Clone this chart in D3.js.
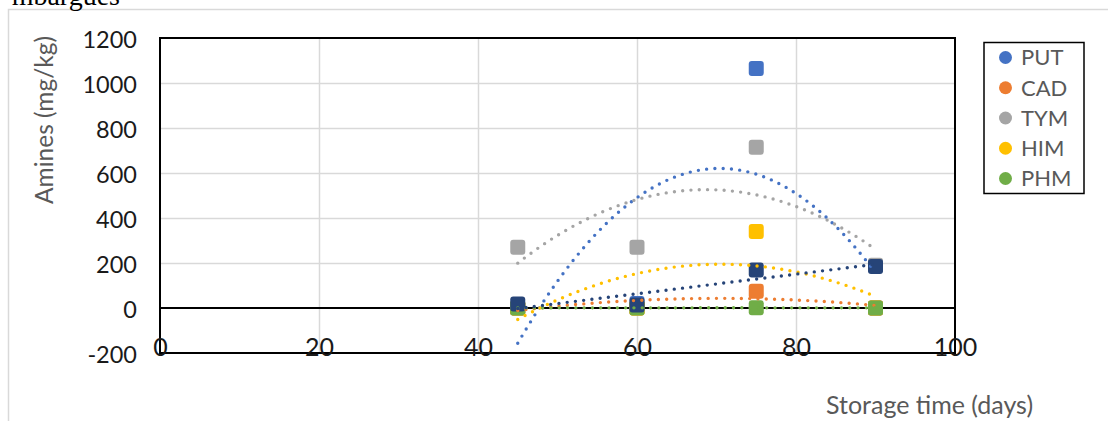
<!DOCTYPE html>
<html>
<head>
<meta charset="utf-8">
<script src="https://cdn.jsdelivr.net/npm/d3@7"></script>
<style>
  html, body { margin: 0; padding: 0; background: #fff; }
  svg { display: block; }
</style>
</head>
<body>
<script>
// Storage days sampled
const days = [45, 60, 75, 90];

// Biogenic amine contents (mg/kg) per storage day
const putValues = [0, 20, 1065, 0];
const cadValues = [0, 0, 75, 0];
const tymValues = [270, 270, 715, 190];
const himValues = [0, 0, 340, 0];
const phmValues = [0.5, 0.5, 1, 0.5];
const unlabeledValues = [18, 13, 169, 184];

// Series names shown in the legend and their colours
const seriesNames = ["PUT", "CAD", "TYM", "HIM", "PHM"];
const seriesColors = ["#4472C4", "#ED7D31", "#A5A5A5", "#FFC000", "#70AD47"];
const unlabeledColor = "#264478";

// Axis ticks
const xTicks = [0, 20, 40, 60, 80, 100];
const yTicks = [-200, 0, 200, 400, 600, 800, 1000, 1200];

const W = 1108, H = 421;
const plot = { left: 160, right: 955, top: 38, bottom: 353 };

const x = d3.scaleLinear().domain([0, 100]).range([plot.left, plot.right]);
const y = d3.scaleLinear().domain([-200, 1200]).range([plot.bottom, plot.top]);

const series = [
  { name: seriesNames[0], color: seriesColors[0], values: putValues, fit: 2 },
  { name: seriesNames[1], color: seriesColors[1], values: cadValues, fit: 2 },
  { name: seriesNames[2], color: seriesColors[2], values: tymValues, fit: 2 },
  { name: seriesNames[3], color: seriesColors[3], values: himValues, fit: 2 },
  { name: seriesNames[4], color: seriesColors[4], values: phmValues, fit: 2 },
  { name: null, color: unlabeledColor, values: unlabeledValues, fit: 1 }
];

// Least-squares polynomial fit (degree 1 or 2), returns coefficient array [c0, c1, c2]
function polyFit(xs, ys, degree) {
  const n = degree + 1;
  const A = [];
  for (let r = 0; r < n; r++) {
    A.push([]);
    for (let c = 0; c < n; c++) A[r].push(d3.sum(xs, xv => Math.pow(xv, r + c)));
    A[r].push(d3.sum(xs.map((xv, i) => Math.pow(xv, r) * ys[i])));
  }
  // Gaussian elimination
  for (let i = 0; i < n; i++) {
    let p = i;
    for (let k = i + 1; k < n; k++) if (Math.abs(A[k][i]) > Math.abs(A[p][i])) p = k;
    [A[i], A[p]] = [A[p], A[i]];
    for (let k = i + 1; k < n; k++) {
      const f = A[k][i] / A[i][i];
      for (let j = i; j <= n; j++) A[k][j] -= f * A[i][j];
    }
  }
  const coef = new Array(n).fill(0);
  for (let i = n - 1; i >= 0; i--) {
    let s = A[i][n];
    for (let j = i + 1; j < n; j++) s -= A[i][j] * coef[j];
    coef[i] = s / A[i][i];
  }
  return coef;
}

const plainNumber = d => String(d);

const svg = d3.select("body").append("svg").attr("width", W).attr("height", H);

// Outer chart border
svg.append("path")
  .attr("d", `M8.5,${H} V9.5 H${W}`)
  .attr("fill", "none").attr("stroke", "#D9D9D9").attr("stroke-width", 1.5);

// Caption line running above the chart frame
svg.append("text")
  .attr("x", 120).attr("y", 5)
  .attr("text-anchor", "end")
  .attr("font-family", "Liberation Serif, serif")
  .attr("font-size", 28)
  .attr("fill", "#000")
  .text("mbargues");

// Gridlines
svg.append("g")
  .attr("transform", `translate(${plot.left},0)`)
  .call(d3.axisLeft(y).tickValues(yTicks.filter(v => v > 0 && v < 1200)).tickSize(-(plot.right - plot.left)).tickFormat(""))
  .call(g => g.select(".domain").remove())
  .call(g => g.selectAll("line").attr("stroke", "#D9D9D9").attr("stroke-width", 1.5));

svg.append("g")
  .attr("transform", `translate(0,${plot.bottom})`)
  .call(d3.axisBottom(x).tickValues(xTicks.filter(v => v > 0 && v < 100)).tickSize(-(plot.bottom - plot.top)).tickFormat(""))
  .call(g => g.select(".domain").remove())
  .call(g => g.selectAll("line").attr("stroke", "#D9D9D9").attr("stroke-width", 1.5));

// Plot frame and zero line
svg.append("rect")
  .attr("x", plot.left).attr("y", plot.top)
  .attr("width", plot.right - plot.left).attr("height", plot.bottom - plot.top)
  .attr("fill", "none").attr("stroke", "#000").attr("stroke-width", 2);
svg.append("line")
  .attr("x1", plot.left).attr("x2", plot.right)
  .attr("y1", y(0)).attr("y2", y(0))
  .attr("stroke", "#000").attr("stroke-width", 2);

// Y tick labels
svg.append("g")
  .attr("transform", `translate(${plot.left},0)`)
  .call(d3.axisLeft(y).tickValues(yTicks).tickSize(0).tickPadding(23).tickFormat(plainNumber))
  .call(g => g.select(".domain").remove())
  .call(g => g.selectAll("text")
    .attr("font-family", "Lato, sans-serif").attr("font-size", 23.5)
    .attr("fill", "#1a1a1a").attr("dy", "0.42em"));

// X tick labels (sitting on the bottom axis line)
svg.append("g")
  .attr("transform", `translate(0,${plot.bottom})`)
  .call(d3.axisBottom(x).tickValues(xTicks).tickSize(0).tickFormat(plainNumber))
  .call(g => g.select(".domain").remove())
  .call(g => g.selectAll("text")
    .attr("font-family", "Lato, sans-serif").attr("font-size", 25)
    .attr("fill", "#1a1a1a").attr("y", -6).attr("dy", "0.36em"));

// Axis titles
svg.append("text")
  .attr("transform", `translate(53,120) rotate(-90)`)
  .attr("text-anchor", "middle")
  .attr("font-family", "Lato, sans-serif").attr("font-size", 24.5)
  .attr("fill", "#595959")
  .text("Amines (mg/kg)");

svg.append("text")
  .attr("x", 826).attr("y", 414)
  .attr("font-family", "Lato, sans-serif").attr("font-size", 25)
  .attr("fill", "#595959")
  .text("Storage time (days)");

// Markers
const mk = 15;
series.forEach(s => {
  svg.append("g").selectAll("rect")
    .data(days.map((d, i) => ({ d, v: s.values[i] })))
    .join("rect")
    .attr("x", p => x(p.d) - mk / 2).attr("y", p => y(p.v) - mk / 2)
    .attr("width", mk).attr("height", mk).attr("rx", 3)
    .attr("fill", s.color);
});

// Trendlines (dotted)
const line = d3.line().x(p => x(p[0])).y(p => y(p[1]));
const xs = d3.range(days[0], days[days.length - 1] + 0.001, 0.25);
series.forEach(s => {
  const c = polyFit(days, s.values, s.fit);
  const pts = xs.map(t => [t, c.reduce((acc, k, i) => acc + k * Math.pow(t, i), 0)]);
  svg.append("path")
    .attr("d", line(pts))
    .attr("fill", "none")
    .attr("stroke", s.color)
    .attr("stroke-width", 3.4)
    .attr("stroke-linecap", "round")
    .attr("stroke-dasharray", "0 8.3");
});

// Legend
const legend = svg.append("g");
legend.append("rect")
  .attr("x", 984).attr("y", 42.5).attr("width", 100).attr("height", 151)
  .attr("fill", "#fff").attr("stroke", "#000").attr("stroke-width", 1.5);
const legendRows = series.filter(s => s.name);
const legendY = d3.scalePoint().domain(legendRows.map(s => s.name)).range([57.5, 178.5]);
legendRows.forEach(s => {
  legend.append("circle")
    .attr("cx", 1005.5).attr("cy", legendY(s.name)).attr("r", 6.5)
    .attr("fill", s.color);
  legend.append("text")
    .attr("x", 1021).attr("y", legendY(s.name)).attr("dy", "0.36em")
    .attr("font-family", "Lato, sans-serif").attr("font-size", 22)
    .attr("fill", "#595959")
    .text(s.name);
});
</script>
</body>
</html>
